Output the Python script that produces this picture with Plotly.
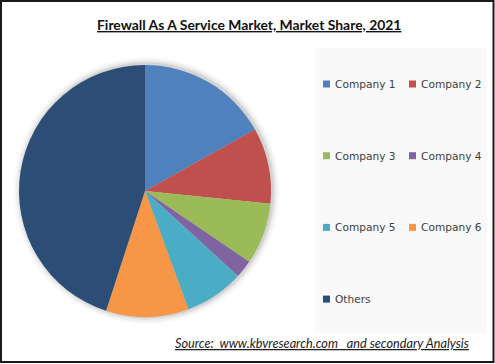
import plotly.graph_objects as go

categories = ["Company 1", "Company 2", "Company 3", "Company 4", "Company 5", "Company 6", "Others"]
shares = [16.9, 9.7, 7.9, 2.3, 7.6, 10.6, 45.0]
colors = ["#4F81BD", "#C0504D", "#9BBB59", "#8064A2", "#4BACC6", "#F79646", "#2C4D75"]
title_text = "Firewall As A Service Market, Market Share, 2021"
source_text = "Source:  www.kbvresearch.com   and secondary Analysis"

W, H = 495, 364


def px(x):
    return x / W


def py(y):
    return 1 - y / H


fig = go.Figure(
    go.Pie(
        labels=categories,
        values=shares,
        sort=False,
        direction="clockwise",
        rotation=0,
        marker=dict(colors=colors, line=dict(width=0)),
        textinfo="none",
        hoverinfo="label+percent",
        showlegend=False,
        domain=dict(x=[px(19), px(271)], y=[py(317), py(65)]),
    )
)

shapes = []
annotations = []
# soft shadow around the pie
cx, cy, r = 145.5, 191, 126
for k, op in [(7, 0.025), (5, 0.035), (3, 0.05), (1.5, 0.07)]:
    shapes.append(dict(type="circle", xref="paper", yref="paper",
                       x0=px(cx - r - k + 1), x1=px(cx + r + k + 1),
                       y0=py(cy + r + k), y1=py(cy - r - k - 1),
                       fillcolor="#000000", opacity=op, line=dict(width=0), layer="below"))
# legend background box
shapes.append(dict(type="rect", xref="paper", yref="paper",
                   x0=px(315), x1=px(487), y0=py(333), y1=py(48),
                   fillcolor="#F9F9F9", line=dict(width=0), layer="below"))

# legend (two columns, Excel style), built from categories / colors
LEG_X0, LEG_COL_STEP = 323, 86
LEG_Y0, LEG_ROW_STEP = 84, 71.7
SQ = 7
for i, (cat, col) in enumerate(zip(categories, colors)):
    row, colm = divmod(i, 2)
    x0 = LEG_X0 + colm * LEG_COL_STEP
    yc = LEG_Y0 + row * LEG_ROW_STEP
    shapes.append(dict(type="rect", xref="paper", yref="paper",
                       x0=px(x0), x1=px(x0 + SQ), y0=py(yc + SQ / 2), y1=py(yc - SQ / 2),
                       fillcolor=col, line=dict(width=0), layer="above"))
    annotations.append(dict(text=cat, xref="paper", yref="paper",
                            x=px(x0 + SQ + 3), y=py(yc), xanchor="left", yanchor="middle",
                            showarrow=False,
                            font=dict(family="DejaVu Sans", size=10.6, color="#404040")))

# outer frame
shapes.append(dict(type="rect", xref="paper", yref="paper",
                   x0=px(1), x1=px(493.5), y0=py(362), y1=py(1),
                   line=dict(color="#1a1a1a", width=2), layer="above"))

annotations += [
    dict(text="<b><u>" + title_text + "</u></b>", xref="paper", yref="paper",
         x=px(249), y=py(25), xanchor="center", yanchor="middle", showarrow=False,
         font=dict(family="Lato", size=13.9, color="#111111")),
    dict(text="<i><u>" + source_text + "</u></i>", xref="paper", yref="paper",
         x=px(322), y=py(343), xanchor="center", yanchor="middle", showarrow=False,
         font=dict(family="Lato", size=12.7, color="#222222")),
]

fig.update_layout(
    width=W, height=H,
    margin=dict(l=0, r=0, t=0, b=0),
    paper_bgcolor="white",
    plot_bgcolor="white",
    showlegend=False,
    shapes=shapes,
    annotations=annotations,
)

fig.write_html("out.html")
